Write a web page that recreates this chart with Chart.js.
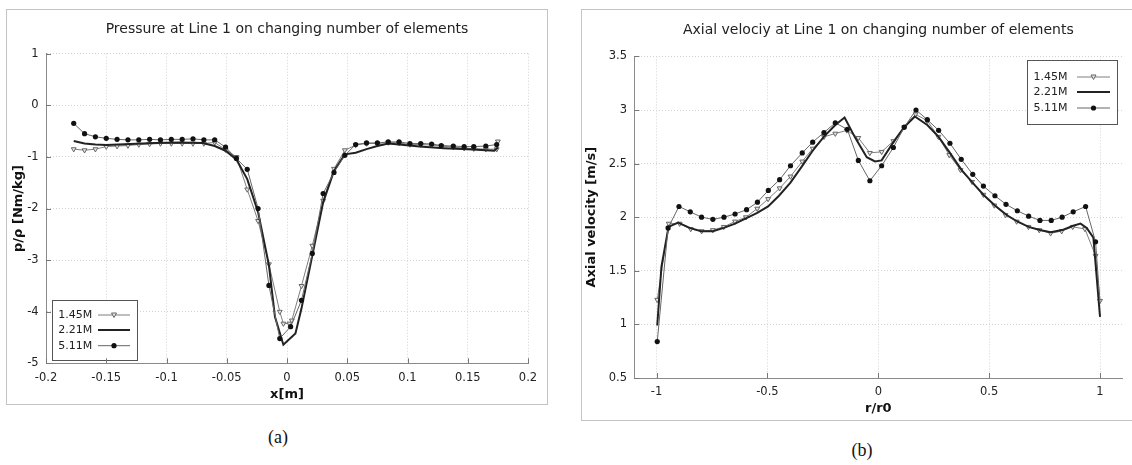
<!DOCTYPE html>
<html>
<head>
<meta charset="utf-8">
<script src="https://cdn.jsdelivr.net/npm/chart.js@4.4.1/dist/chart.umd.min.js"></script>
<style>
  body { margin: 0; background: #fff; width: 1132px; height: 465px; position: relative; overflow: hidden; }
  .frame { position: absolute; border: 1px solid #c4c4c4; box-sizing: border-box; }
  canvas { position: absolute; }
  .cap { position: absolute; font-family: "Liberation Serif", serif; font-size: 18px; color: #111; transform: translate(-50%, -50%); }
</style>
</head>
<body>
<div class="frame" style="left:6px;top:9px;width:542px;height:396px"></div>
<div class="frame" style="left:581px;top:9px;width:560px;height:412px"></div>
<canvas id="pressureChart" width="560" height="420" style="left:0;top:0"></canvas>
<canvas id="velocityChart" width="562" height="430" style="left:570px;top:0"></canvas>
<div class="cap" style="left:278px;top:437px">(a)</div>
<div class="cap" style="left:862px;top:450px">(b)</div>
<script>
// series names (mesh sizes)
const seriesLabels = ['1.45M', '2.21M', '5.11M'];

// (a) pressure along line 1
const pressureXTicks = [-0.2, -0.15, -0.1, -0.05, 0, 0.05, 0.1, 0.15, 0.2];
const pressureYTicks = [-5, -4, -3, -2, -1, 0, 1];

const pressureX145 = [-0.177, -0.168, -0.159, -0.150, -0.141, -0.132, -0.123, -0.114, -0.105, -0.096, -0.087, -0.078, -0.069, -0.060, -0.051, -0.042, -0.033, -0.024, -0.015, -0.006, -0.003, 0.002, 0.004, 0.012, 0.021, 0.030, 0.039, 0.048, 0.057, 0.066, 0.075, 0.084, 0.093, 0.102, 0.111, 0.120, 0.128, 0.138, 0.147, 0.155, 0.165, 0.174, 0.175];
const pressureY145 = [-0.85, -0.87, -0.85, -0.80, -0.79, -0.78, -0.76, -0.75, -0.74, -0.74, -0.74, -0.74, -0.74, -0.72, -0.86, -1.00, -1.63, -2.24, -3.08, -4.00, -4.23, -4.23, -4.17, -3.50, -2.72, -1.85, -1.23, -0.87, -0.77, -0.74, -0.74, -0.72, -0.73, -0.76, -0.76, -0.77, -0.79, -0.81, -0.83, -0.84, -0.85, -0.85, -0.70];

const pressureX221 = [-0.177, -0.168, -0.159, -0.150, -0.130, -0.110, -0.090, -0.070, -0.060, -0.051, -0.042, -0.033, -0.024, -0.015, -0.010, -0.003, 0.007, 0.012, 0.021, 0.030, 0.039, 0.048, 0.057, 0.066, 0.075, 0.084, 0.093, 0.110, 0.130, 0.150, 0.165, 0.172, 0.175];
const pressureY221 = [-0.69, -0.74, -0.76, -0.77, -0.75, -0.73, -0.72, -0.73, -0.79, -0.88, -1.05, -1.43, -2.07, -3.10, -4.10, -4.64, -4.42, -3.94, -2.91, -1.88, -1.27, -0.95, -0.92, -0.85, -0.79, -0.74, -0.76, -0.80, -0.83, -0.85, -0.87, -0.88, -0.82];

const pressureX511 = [-0.177, -0.168, -0.159, -0.150, -0.141, -0.132, -0.123, -0.114, -0.105, -0.096, -0.087, -0.078, -0.069, -0.060, -0.051, -0.042, -0.033, -0.024, -0.015, -0.006, 0.003, 0.012, 0.021, 0.030, 0.039, 0.048, 0.057, 0.066, 0.075, 0.084, 0.093, 0.102, 0.111, 0.120, 0.128, 0.138, 0.147, 0.155, 0.165, 0.174];
const pressureY511 = [-0.35, -0.55, -0.61, -0.64, -0.66, -0.67, -0.67, -0.66, -0.67, -0.66, -0.66, -0.65, -0.67, -0.67, -0.81, -1.03, -1.24, -2.00, -3.49, -4.52, -4.29, -3.78, -2.87, -1.71, -1.30, -0.97, -0.76, -0.73, -0.73, -0.71, -0.71, -0.74, -0.74, -0.75, -0.78, -0.79, -0.80, -0.80, -0.79, -0.76];

// (b) axial velocity along line 1
const velocityXTicks = [-1, -0.5, 0, 0.5, 1];
const velocityYTicks = [0.5, 1, 1.5, 2, 2.5, 3, 3.5];

const velocityX145 = [-0.997, -0.945, -0.896, -0.846, -0.797, -0.746, -0.697, -0.646, -0.597, -0.546, -0.497, -0.445, -0.396, -0.343, -0.296, -0.245, -0.194, -0.142, -0.090, -0.038, 0.015, 0.068, 0.117, 0.168, 0.221, 0.271, 0.320, 0.371, 0.423, 0.474, 0.523, 0.574, 0.624, 0.677, 0.726, 0.777, 0.827, 0.877, 0.932, 0.980, 1.0];
const velocityY145 = [1.23, 1.94, 1.94, 1.89, 1.87, 1.88, 1.91, 1.96, 2.00, 2.08, 2.17, 2.27, 2.38, 2.52, 2.64, 2.75, 2.78, 2.81, 2.74, 2.60, 2.61, 2.71, 2.84, 2.96, 2.90, 2.75, 2.58, 2.44, 2.33, 2.21, 2.11, 2.02, 1.96, 1.91, 1.88, 1.85, 1.87, 1.91, 1.89, 1.64, 1.22];

const velocityX221 = [-0.997, -0.978, -0.946, -0.903, -0.851, -0.799, -0.746, -0.697, -0.646, -0.597, -0.546, -0.497, -0.448, -0.397, -0.346, -0.296, -0.246, -0.194, -0.152, -0.104, -0.052, -0.015, 0.015, 0.068, 0.117, 0.165, 0.221, 0.272, 0.323, 0.376, 0.426, 0.474, 0.526, 0.579, 0.627, 0.678, 0.729, 0.777, 0.829, 0.879, 0.912, 0.940, 0.970, 1.0];
const velocityY221 = [0.99, 1.54, 1.91, 1.95, 1.90, 1.87, 1.87, 1.90, 1.94, 1.99, 2.04, 2.10, 2.20, 2.32, 2.47, 2.62, 2.75, 2.86, 2.93, 2.74, 2.56, 2.52, 2.53, 2.70, 2.84, 2.94, 2.86, 2.75, 2.60, 2.44, 2.32, 2.21, 2.11, 2.02, 1.96, 1.91, 1.88, 1.86, 1.88, 1.92, 1.94, 1.90, 1.81, 1.07];

const velocityX511 = [-0.997, -0.948, -0.899, -0.848, -0.797, -0.746, -0.696, -0.646, -0.594, -0.545, -0.496, -0.445, -0.396, -0.343, -0.296, -0.245, -0.194, -0.140, -0.090, -0.038, 0.015, 0.068, 0.117, 0.170, 0.221, 0.272, 0.323, 0.374, 0.426, 0.474, 0.526, 0.576, 0.627, 0.678, 0.729, 0.780, 0.829, 0.879, 0.935, 0.980, 1.0];
const velocityY511 = [0.84, 1.90, 2.10, 2.05, 2.00, 1.98, 2.00, 2.03, 2.07, 2.14, 2.25, 2.35, 2.48, 2.60, 2.70, 2.79, 2.88, 2.82, 2.53, 2.34, 2.48, 2.65, 2.84, 3.00, 2.91, 2.81, 2.69, 2.54, 2.40, 2.29, 2.20, 2.12, 2.06, 2.01, 1.97, 1.97, 2.00, 2.05, 2.10, 1.77, 1.20];

const toPoints = (xs, ys) => xs.map((x, i) => ({ x, y: ys[i] }));

const tickFont = { family: 'DejaVu Sans', size: 11.5 };
const axisTitleFont = { family: 'DejaVu Sans', size: 13, weight: 'bold' };

function makeDatasets(xa, ya, xb, yb, xc, yc) {
    return [
        {
            label: seriesLabels[0], data: toPoints(xa, ya), showLine: true, order: 3,
            borderColor: '#7e7e7e', borderWidth: 1,
            pointStyle: 'triangle', pointRotation: 180, pointRadius: 2.8,
            pointBackgroundColor: '#e6e6e6', pointBorderColor: '#666', pointBorderWidth: 1
        },
        {
            label: seriesLabels[1], data: toPoints(xb, yb), showLine: true, order: 2,
            borderColor: '#222', borderWidth: 2, pointRadius: 0
        },
        {
            label: seriesLabels[2], data: toPoints(xc, yc), showLine: true, order: 1,
            borderColor: '#666', borderWidth: 1,
            pointStyle: 'circle', pointRadius: ctx => (ctx.raw && ctx.raw.x >= 1 ? 0 : 2.6),
            pointBackgroundColor: '#111', pointBorderColor: '#111', pointBorderWidth: 0
        }
    ];
}

// boxed legend inside the plot, text first then line sample (gnuplot style)
const boxLegend = {
    id: 'boxLegend',
    afterDatasetsDraw(chart, args, o) {
        const { ctx, chartArea: a } = chart;
        const left = o.fromRight ? a.right - o.dx - o.w : a.left + o.dx;
        const top = o.fromBottom ? a.bottom - o.dy - o.h : a.top + o.dy;
        ctx.save();
        ctx.fillStyle = '#fff';
        ctx.fillRect(left, top, o.w, o.h);
        ctx.strokeStyle = '#555';
        ctx.lineWidth = 1;
        ctx.strokeRect(Math.round(left) + 0.5, Math.round(top) + 0.5, o.w, o.h);
        ctx.font = '11px "DejaVu Sans"';
        ctx.textBaseline = 'middle';
        chart.data.datasets.forEach((ds, i) => {
            const y = top + o.rows[i];
            ctx.fillStyle = '#222';
            ctx.fillText(ds.label, left + o.textX, y);
            ctx.strokeStyle = ds.borderColor;
            ctx.lineWidth = ds.borderWidth;
            ctx.beginPath();
            ctx.moveTo(left + o.line[0], y);
            ctx.lineTo(left + o.line[1], y);
            ctx.stroke();
            const mx = left + (o.line[0] + o.line[1]) / 2;
            if (ds.pointStyle === 'circle') {
                ctx.fillStyle = ds.pointBackgroundColor;
                ctx.beginPath();
                ctx.arc(mx, y, 2.6, 0, Math.PI * 2);
                ctx.fill();
            } else if (ds.pointStyle === 'triangle') {
                ctx.fillStyle = ds.pointBackgroundColor;
                ctx.strokeStyle = ds.pointBorderColor;
                ctx.lineWidth = 1;
                ctx.beginPath();
                ctx.moveTo(mx - 2.5, y - 2);
                ctx.lineTo(mx + 2.5, y - 2);
                ctx.lineTo(mx, y + 2.5);
                ctx.closePath();
                ctx.fill();
                ctx.stroke();
            }
        });
        ctx.restore();
    }
};

// short inward tick marks on both axes
const innerTicks = {
    id: 'innerTicks',
    afterDraw(chart) {
        const { ctx, chartArea: a, scales } = chart;
        ctx.save();
        ctx.strokeStyle = '#777';
        ctx.lineWidth = 1;
        ctx.beginPath();
        scales.x.ticks.forEach(t => {
            const px = Math.round(scales.x.getPixelForValue(t.value)) + 0.5;
            ctx.moveTo(px, a.bottom);
            ctx.lineTo(px, a.bottom - 5);
        });
        scales.y.ticks.forEach(t => {
            const py = Math.round(scales.y.getPixelForValue(t.value)) + 0.5;
            ctx.moveTo(a.left, py);
            ctx.lineTo(a.left + 5, py);
        });
        ctx.stroke();
        ctx.restore();
    }
};

function buildChart(canvasId, cfg) {
    const canvas = document.getElementById(canvasId);
    return new Chart(canvas.getContext('2d'), {
        type: 'scatter',
        data: { datasets: cfg.datasets },
        plugins: [boxLegend, innerTicks],
        options: {
            responsive: false,
            animation: false,
            devicePixelRatio: 1,
            layout: { padding: { left: 0, right: cfg.padRight, top: 0, bottom: 0 } },
            elements: { line: { tension: 0 } },
            scales: {
                x: {
                    type: 'linear', min: cfg.xMin, max: cfg.xMax,
                    afterBuildTicks: s => { s.ticks = cfg.xTicks.map(v => ({ value: v })); },
                    afterFit: s => { s.height = cfg.xHeight; },
                    ticks: { font: tickFont, color: '#222', padding: cfg.xTickPad, maxRotation: 0, autoSkip: false, callback: v => String(v) },
                    grid: { color: '#d2d2d2', drawTicks: false },
                    border: { color: '#8a8a8a', width: 1, dash: [1, 2] },
                    title: { display: true, text: cfg.xTitle, font: axisTitleFont, color: '#111', padding: { top: 0, bottom: cfg.xTitlePad } }
                },
                y: {
                    type: 'linear', min: cfg.yMin, max: cfg.yMax,
                    afterBuildTicks: s => { s.ticks = cfg.yTicks.map(v => ({ value: v })); },
                    afterFit: s => { s.width = cfg.yWidth; },
                    ticks: { font: tickFont, color: '#222', padding: 7.4, autoSkip: false, callback: v => String(v) },
                    grid: { color: '#d2d2d2', drawTicks: false },
                    border: { color: '#8a8a8a', width: 1, dash: [1, 2] },
                    title: { display: true, text: cfg.yTitle, font: axisTitleFont, color: '#111', padding: { top: cfg.yTitlePad, bottom: 0 } }
                }
            },
            plugins: {
                legend: { display: false },
                tooltip: { enabled: false },
                title: {
                    display: true, text: cfg.title, fullSize: false,
                    font: { family: 'DejaVu Sans', size: 14, weight: 'normal' }, color: '#222',
                    padding: { top: cfg.titleTop, bottom: cfg.titleBottom }
                },
                boxLegend: cfg.legend
            }
        }
    });
}

buildChart('pressureChart', {
    title: 'Pressure at Line 1 on changing number of elements',
    datasets: makeDatasets(pressureX145, pressureY145, pressureX221, pressureY221, pressureX511, pressureY511),
    xMin: -0.2, xMax: 0.2, xTicks: pressureXTicks,
    yMin: -5, yMax: 1, yTicks: pressureYTicks,
    xTitle: 'x[m]', yTitle: 'p/ρ [Nm/kg]',
    padRight: 32, yWidth: 46, xHeight: 56.7, xTickPad: 7.8, xTitlePad: 17.2, yTitlePad: 11.2,
    titleTop: 20.6, titleBottom: 16.3,
    legend: { fromBottom: true, dx: 5.7, dy: 3.3, w: 85, h: 60, rows: [15, 30, 45.7], textX: 6.6, line: [46.3, 78.3] }
});

buildChart('velocityChart', {
    title: 'Axial velociy at Line 1 on changing number of elements',
    datasets: makeDatasets(velocityX145, velocityY145, velocityX221, velocityY221, velocityX511, velocityY511),
    xMin: -1.1, xMax: 1.1, xTicks: velocityXTicks,
    yMin: 0.5, yMax: 3.5, yTicks: velocityYTicks,
    xTitle: 'r/r0', yTitle: 'Axial velocity [m/s]',
    padRight: 9.8, yWidth: 64.4, xHeight: 52, xTickPad: 6.8, xTitlePad: 13.2, yTitlePad: 13.6,
    titleTop: 21.6, titleBottom: 18.0,
    legend: { fromRight: true, dx: 5.2, dy: 3.6, w: 90, h: 64, rows: [17, 32, 48], textX: 6.6, line: [50, 83] }
});
</script>
</body>
</html>
